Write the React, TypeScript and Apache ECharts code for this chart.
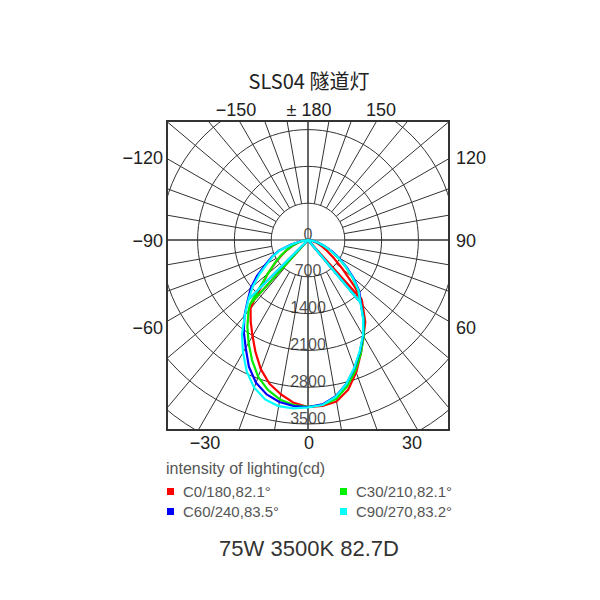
import React, { useEffect, useRef } from "react";
import * as echarts from "echarts";

// ---------- data ----------
const chartTitle = "SLS04 隧道灯";
const footerText = "75W 3500K 82.7D";
const unitText = "intensity of lighting(cd)";
const ringLabels = [0, 700, 1400, 2100, 2800, 3500];
const topLabels = ["−150", "± 180", "150"];
const leftLabels = ["−120", "−90", "−60"];
const rightLabels = ["120", "90", "60"];
const bottomLabels = ["−30", "0", "30"];
const seriesNames = ["C0/180,82.1°", "C30/210,82.1°", "C60/240,83.5°", "C90/270,83.2°"];
const seriesColors = ["#ff0000", "#00ee00", "#0000ff", "#00ffff"];

// polyline paths: [gamma angle (deg), intensity (cd)]
const c0Path: [number, number][] = [
  [-42, 1520], [-90, 0], [-80, 90], [-75, 190], [-70, 300], [-65, 430], [-60, 580], [-55, 760], [-50, 1000],
  [-42, 1520], [-40, 1700], [-35, 1900], [-30, 2110], [-25, 2360], [-20, 2620], [-15, 2830], [-10, 2980], [-5, 3110],
  [0, 3180], [5, 3170], [10, 3120], [15, 2950], [20, 2680], [25, 2380], [30, 2110], [35, 1900], [42, 1530],
  [45, 1250], [50, 860], [55, 600], [60, 420], [65, 300], [70, 200], [75, 120], [80, 60], [90, 0], [42, 1530],
];
const c30Path: [number, number][] = [
  [-42, 1650], [-90, 0], [-80, 100], [-75, 200], [-70, 320], [-65, 450], [-60, 600], [-55, 780], [-50, 1000],
  [-42, 1650], [-40, 1760], [-35, 2010], [-30, 2260], [-25, 2520], [-20, 2770], [-15, 2950], [-10, 3080], [-5, 3150],
  [0, 3175], [5, 3150], [10, 3070], [15, 2880], [20, 2640], [25, 2380], [30, 2120], [35, 1860], [40, 1560],
  [45, 1350], [50, 1100], [55, 860], [60, 650], [65, 460], [70, 310], [75, 180], [80, 90], [90, 0], [40, 1560],
];
const c60Path: [number, number][] = [
  [-45, 1620], [-90, 0], [-80, 140], [-75, 330], [-70, 580], [-65, 760], [-60, 930], [-55, 1180], [-50, 1420],
  [-45, 1620], [-40, 1880], [-35, 2130], [-30, 2370], [-25, 2660], [-20, 2890], [-15, 3040], [-10, 3130], [-5, 3170],
  [0, 3180], [5, 3140], [10, 3020], [15, 2830], [20, 2590], [25, 2340], [30, 2100], [35, 1840], [40, 1560],
  [45, 1380], [50, 1130], [55, 890], [60, 680], [65, 490], [70, 330], [75, 200], [80, 100], [90, 0], [40, 1560],
];
const c90Path: [number, number][] = [
  [-45, 1600], [-90, 0], [-80, 130], [-75, 300], [-70, 560], [-65, 740], [-60, 890], [-55, 1120], [-50, 1370],
  [-45, 1600], [-40, 1870], [-35, 2190], [-30, 2470], [-25, 2760], [-20, 2990], [-15, 3140], [-10, 3210], [-5, 3215],
  [0, 3185], [5, 3150], [10, 3030], [15, 2830], [20, 2580], [25, 2330], [30, 2090], [35, 1830], [40, 1550],
  [45, 1360], [50, 1110], [55, 870], [60, 660], [65, 470], [70, 320], [75, 190], [80, 90], [90, 0], [40, 1550],
];
const paths = [c0Path, c30Path, c60Path, c90Path];

// ---------- layout ----------
const CX = 308;
const CY = 240;
const RING_STEP = 700;
const RING_PX = 36.8;
const R_MAX = 4900;
const R_PX = (R_MAX / RING_STEP) * RING_PX;
const FRAME = { x0: 167, y0: 121, x1: 449, y1: 430 };
const GRID = "#333";
const TXT = "#222";
const FONT = '"Liberation Sans", Arial, sans-serif';

export default function App() {
  const ref = useRef<HTMLDivElement>(null);
  useEffect(() => {
    if (!ref.current) return;
    const chart = echarts.init(ref.current, undefined, { renderer: "svg" });

    const txt = (text: string, x: number, y: number, size: number, align = "center", color = TXT, family = FONT) => ({
      type: "text",
      z: 110,
      x,
      y,
      style: { text, fill: color, fontSize: size, fontFamily: family, align, verticalAlign: "middle" },
    });

    const graphics: any[] = [
      // masks outside the frame
      { type: "rect", z: 100, shape: { x: 0, y: 0, width: 600, height: FRAME.y0 }, style: { fill: "#fff" } },
      { type: "rect", z: 100, shape: { x: 0, y: FRAME.y1, width: 600, height: 600 - FRAME.y1 }, style: { fill: "#fff" } },
      { type: "rect", z: 100, shape: { x: 0, y: 0, width: FRAME.x0, height: 600 }, style: { fill: "#fff" } },
      { type: "rect", z: 100, shape: { x: FRAME.x1, y: 0, width: 600 - FRAME.x1, height: 600 }, style: { fill: "#fff" } },
      {
        type: "rect",
        z: 105,
        shape: { x: FRAME.x0, y: FRAME.y0, width: FRAME.x1 - FRAME.x0, height: FRAME.y1 - FRAME.y0 },
        style: { fill: "none", stroke: "#333", lineWidth: 2 },
      },
      txt(chartTitle, 309, 80, 20, "center", TXT, '"Noto Sans CJK SC", "Noto Sans", sans-serif'),
      txt(topLabels[0], 236, 110, 18),
      txt(topLabels[1], 309, 110, 18),
      txt(topLabels[2], 381, 110, 18),
      txt(leftLabels[0], 163, 158, 18, "right"),
      txt(leftLabels[1], 163, 241, 18, "right"),
      txt(leftLabels[2], 163, 328, 18, "right"),
      txt(rightLabels[0], 456, 158, 18, "left"),
      txt(rightLabels[1], 456, 241, 18, "left"),
      txt(rightLabels[2], 456, 328, 18, "left"),
      txt(bottomLabels[0], 205, 443, 18),
      txt(bottomLabels[1], 309, 443, 18),
      txt(bottomLabels[2], 412, 443, 18),
      txt(unitText, 166, 468, 16, "left", "#555"),
      txt(footerText, 309, 548, 22, "center", "#333"),
    ];

    const lineSeries = paths.map((p, i) => ({
      name: seriesNames[i],
      type: "line",
      coordinateSystem: "polar",
      polarIndex: 1,
      data: p.map(([a, v]) => [v, a]),
      showSymbol: false,
      symbol: "none",
      smooth: false,
      clip: false,
      z: 10 + i,
      lineStyle: { color: seriesColors[i], width: 2.2 },
      itemStyle: { color: seriesColors[i] },
    }));

    const legendBase = {
      orient: "vertical",
      top: 484,
      padding: 0,
      itemGap: 5,
      itemWidth: 7,
      itemHeight: 7,
      icon: "rect",
      z: 200,
      textStyle: { fontSize: 15, color: "#555", fontFamily: FONT, padding: [0, 0, 0, 4] },
    };

    const option: any = {
      animation: false,
      backgroundColor: "#fff",
      polar: [
        { center: [CX, CY], radius: [RING_PX, R_PX] },
        { center: [CX, CY], radius: R_PX },
      ],
      angleAxis: [
        {
          polarIndex: 0,
          type: "value",
          min: -180,
          max: 180,
          interval: 10,
          startAngle: 90,
          clockwise: false,
          axisLine: { show: false },
          axisTick: { show: false },
          axisLabel: { show: false },
          splitLine: { show: true, lineStyle: { color: GRID, width: 1 } },
        },
        {
          polarIndex: 1,
          type: "value",
          min: -180,
          max: 180,
          interval: 90,
          startAngle: 90,
          clockwise: false,
          axisLine: { show: false },
          axisTick: { show: false },
          axisLabel: { show: false },
          splitLine: { show: true, lineStyle: { color: GRID, width: 1 } },
        },
      ],
      radiusAxis: [
        {
          polarIndex: 0,
          type: "value",
          min: 0,
          max: 1,
          axisLine: { show: false },
          axisTick: { show: false },
          axisLabel: { show: false },
          splitLine: { show: false },
        },
        {
          polarIndex: 1,
          type: "value",
          min: 0,
          max: R_MAX,
          interval: RING_STEP,
          axisLine: { show: false },
          axisTick: { show: false },
          axisLabel: { show: false },
          splitLine: { show: true, lineStyle: { color: GRID, width: 1 } },
        },
      ],
      legend: [
        { ...legendBase, left: 167, data: [seriesNames[0], seriesNames[2]] },
        { ...legendBase, left: 340, data: [seriesNames[1], seriesNames[3]] },
      ],
      series: [
        {
          type: "scatter",
          coordinateSystem: "polar",
          polarIndex: 1,
          symbolSize: 2,
          itemStyle: { color: "rgba(0,0,0,0)" },
          z: 3,
          silent: true,
          data: ringLabels.map((v) => [v, 0]),
          label: {
            show: true,
            position: "inside",
            offset: [0, -6],
            formatter: (p: any) => String(p.value[0]),
            fontSize: 16,
            color: "#222",
            fontFamily: FONT,
          },
        },
        ...lineSeries,
      ],
      graphic: graphics,
    };
    chart.setOption(option);
    return () => chart.dispose();
  }, []);
  return <div ref={ref} style={{ position: "absolute", left: 0, top: 0, width: 600, height: 600, background: "#fff" }} />;
}
